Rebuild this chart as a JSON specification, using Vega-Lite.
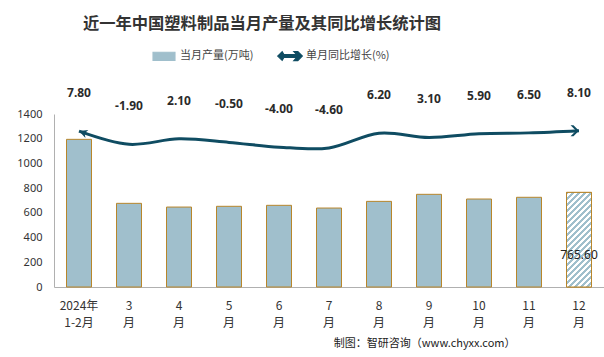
{
  "$schema": "https://vega.github.io/schema/vega-lite/v6.json",
  "width": 550,
  "height": 173,
  "autosize": "none",
  "padding": {"left": 54, "top": 114, "right": 0, "bottom": 70},
  "background": "white",
  "config": {
    "view": {"stroke": null},
    "locale": {"number": {"decimal": ".", "thousands": ",", "grouping": [3], "currency": ["$", ""], "minus": "-"}}
  },
  "title": {
    "text": "近一年中国塑料制品当月产量及其同比增长统计图",
    "font": "Noto Sans CJK SC",
    "fontSize": 16.3,
    "fontWeight": "bold",
    "color": "#333333",
    "anchor": "middle",
    "frame": "group",
    "dx": -67,
    "offset": 12
  },
  "data": {
    "values": [
      {"month": "2024年1-2月", "output": 1195, "growth": 7.8},
      {"month": "3月", "output": 677, "growth": -1.9},
      {"month": "4月", "output": 647, "growth": 2.1},
      {"month": "5月", "output": 653, "growth": -0.5},
      {"month": "6月", "output": 661, "growth": -4.0},
      {"month": "7月", "output": 639, "growth": -4.6},
      {"month": "8月", "output": 693, "growth": 6.2},
      {"month": "9月", "output": 750, "growth": 3.1},
      {"month": "10月", "output": 712, "growth": 5.9},
      {"month": "11月", "output": 726, "growth": 6.5},
      {"month": "12月", "output": 765.6, "growth": 8.1}
    ]
  },
  "encoding": {
    "x": {
      "field": "month",
      "type": "nominal",
      "sort": null,
      "scale": {"paddingInner": 0.5, "paddingOuter": 0.25},
      "axis": {
        "title": "制图：智研咨询（www.chyxx.com）",
        "titleFont": "Noto Sans CJK SC",
        "titleFontSize": 11,
        "titleFontWeight": "normal",
        "titleColor": "#222222",
        "titleX": 461,
        "titleY": 56,
        "titleAlign": "right",
        "titleBaseline": "middle",
        "labelAngle": 0,
        "labelFont": "Noto Sans CJK SC",
        "labelFontSize": 12,
        "labelColor": "#333333",
        "labelPadding": 13,
        "labelLineHeight": 17,
        "labelExpr": "datum.label == '2024年1-2月' ? ['2024年', '1-2月'] : [replace(datum.label, '月', ''), '月']",
        "ticks": false,
        "domainColor": "#b0b0b0"
      }
    }
  },
  "layer": [
    {
      "mark": {"type": "bar", "stroke": "#b8862b", "strokeWidth": 1},
      "encoding": {
        "y": {
          "field": "output",
          "type": "quantitative",
          "scale": {"domain": [0, 1400], "nice": false},
          "axis": {
            "title": null,
            "values": [0, 200, 400, 600, 800, 1000, 1200, 1400],
            "format": "d",
            "ticks": false,
            "grid": false,
            "labelFont": "Noto Sans",
            "labelFontSize": 11,
            "labelColor": "#333333",
            "labelPadding": 12,
            "domainColor": "#b0b0b0"
          }
        },
        "color": {
          "datum": "当月产量(万吨)",
          "type": "nominal",
          "scale": {"domain": ["当月产量(万吨)", "单月同比增长(%)"], "range": ["#a0bfcc", "#0f4c62"]},
          "legend": {
            "orient": "none",
            "legendX": 98,
            "legendY": -70,
            "direction": "horizontal",
            "title": null,
            "labelFont": "Noto Sans CJK SC",
            "labelFontSize": 11,
            "labelColor": "#444444",
            "labelOffset": 4,
            "columnPadding": 21,
            "symbolSize": 500,
            "encode": {
              "symbols": {
                "update": {
                  "shape": {"signal": "datum.value == '当月产量(万吨)' ? 'M-0.98,-0.36H0.98V0.36H-0.98Z' : 'M-1.1,0L-0.7,-0.38L-0.55,-0.13L0.6,-0.13L0.35,-0.4L0.7,-0.4L1.1,0L0.7,0.4L0.35,0.4L0.6,0.13L-0.55,0.13L-0.7,0.38Z'"},
                  "fill": {"signal": "datum.value == '当月产量(万吨)' ? '#a0bfcc' : '#0f4c62'"},
                  "stroke": {"signal": "datum.value == '当月产量(万吨)' ? '#b8862b' : '#0f4c62'"},
                  "strokeWidth": {"value": 1.2},
                  "strokeOpacity": {"value": 1},
                  "size": {"value": 500},
                  "opacity": {"value": 1},
                  "fillOpacity": {"value": 1}
                }
              }
            }
          }
        }
      }
    },
    {
      "transform": [{"filter": "datum.month == '12月'"}],
      "mark": {
        "type": "bar",
        "stroke": "#b8862b",
        "strokeWidth": 1,
        "fill": {
          "gradient": "linear",
          "x1": 0, "y1": 0, "x2": 0.3126, "y2": 1.1817,
          "stops": [
            {"offset": 0, "color": "#a0bfcc"}, {"offset": 0.0225, "color": "#a0bfcc"}, {"offset": 0.0225, "color": "#ffffff"}, {"offset": 0.05, "color": "#ffffff"},
            {"offset": 0.05, "color": "#a0bfcc"}, {"offset": 0.0725, "color": "#a0bfcc"}, {"offset": 0.0725, "color": "#ffffff"}, {"offset": 0.1, "color": "#ffffff"},
            {"offset": 0.1, "color": "#a0bfcc"}, {"offset": 0.1225, "color": "#a0bfcc"}, {"offset": 0.1225, "color": "#ffffff"}, {"offset": 0.15, "color": "#ffffff"},
            {"offset": 0.15, "color": "#a0bfcc"}, {"offset": 0.1725, "color": "#a0bfcc"}, {"offset": 0.1725, "color": "#ffffff"}, {"offset": 0.2, "color": "#ffffff"},
            {"offset": 0.2, "color": "#a0bfcc"}, {"offset": 0.2225, "color": "#a0bfcc"}, {"offset": 0.2225, "color": "#ffffff"}, {"offset": 0.25, "color": "#ffffff"},
            {"offset": 0.25, "color": "#a0bfcc"}, {"offset": 0.2725, "color": "#a0bfcc"}, {"offset": 0.2725, "color": "#ffffff"}, {"offset": 0.3, "color": "#ffffff"},
            {"offset": 0.3, "color": "#a0bfcc"}, {"offset": 0.3225, "color": "#a0bfcc"}, {"offset": 0.3225, "color": "#ffffff"}, {"offset": 0.35, "color": "#ffffff"},
            {"offset": 0.35, "color": "#a0bfcc"}, {"offset": 0.3725, "color": "#a0bfcc"}, {"offset": 0.3725, "color": "#ffffff"}, {"offset": 0.4, "color": "#ffffff"},
            {"offset": 0.4, "color": "#a0bfcc"}, {"offset": 0.4225, "color": "#a0bfcc"}, {"offset": 0.4225, "color": "#ffffff"}, {"offset": 0.45, "color": "#ffffff"},
            {"offset": 0.45, "color": "#a0bfcc"}, {"offset": 0.4725, "color": "#a0bfcc"}, {"offset": 0.4725, "color": "#ffffff"}, {"offset": 0.5, "color": "#ffffff"},
            {"offset": 0.5, "color": "#a0bfcc"}, {"offset": 0.5225, "color": "#a0bfcc"}, {"offset": 0.5225, "color": "#ffffff"}, {"offset": 0.55, "color": "#ffffff"},
            {"offset": 0.55, "color": "#a0bfcc"}, {"offset": 0.5725, "color": "#a0bfcc"}, {"offset": 0.5725, "color": "#ffffff"}, {"offset": 0.6, "color": "#ffffff"},
            {"offset": 0.6, "color": "#a0bfcc"}, {"offset": 0.6225, "color": "#a0bfcc"}, {"offset": 0.6225, "color": "#ffffff"}, {"offset": 0.65, "color": "#ffffff"},
            {"offset": 0.65, "color": "#a0bfcc"}, {"offset": 0.6725, "color": "#a0bfcc"}, {"offset": 0.6725, "color": "#ffffff"}, {"offset": 0.7, "color": "#ffffff"},
            {"offset": 0.7, "color": "#a0bfcc"}, {"offset": 0.7225, "color": "#a0bfcc"}, {"offset": 0.7225, "color": "#ffffff"}, {"offset": 0.75, "color": "#ffffff"},
            {"offset": 0.75, "color": "#a0bfcc"}, {"offset": 0.7725, "color": "#a0bfcc"}, {"offset": 0.7725, "color": "#ffffff"}, {"offset": 0.8, "color": "#ffffff"},
            {"offset": 0.8, "color": "#a0bfcc"}, {"offset": 0.8225, "color": "#a0bfcc"}, {"offset": 0.8225, "color": "#ffffff"}, {"offset": 0.85, "color": "#ffffff"},
            {"offset": 0.85, "color": "#a0bfcc"}, {"offset": 0.8725, "color": "#a0bfcc"}, {"offset": 0.8725, "color": "#ffffff"}, {"offset": 0.9, "color": "#ffffff"},
            {"offset": 0.9, "color": "#a0bfcc"}, {"offset": 0.9225, "color": "#a0bfcc"}, {"offset": 0.9225, "color": "#ffffff"}, {"offset": 0.95, "color": "#ffffff"},
            {"offset": 0.95, "color": "#a0bfcc"}, {"offset": 0.9725, "color": "#a0bfcc"}, {"offset": 0.9725, "color": "#ffffff"}, {"offset": 1, "color": "#ffffff"}
          ]
        }
      },
      "encoding": {
        "y": {"field": "output", "type": "quantitative", "scale": {"domain": [0, 1400], "nice": false}, "axis": null}
      }
    },
    {
      "transform": [{"filter": "datum.month == '12月'"}],
      "mark": {"type": "text", "dy": -32, "font": "Noto Sans", "fontSize": 12, "color": "#222222", "baseline": "middle"},
      "encoding": {
        "y": {"datum": 0, "type": "quantitative", "scale": {"domain": [0, 1400], "nice": false}, "axis": null},
        "text": {"field": "output", "type": "quantitative", "format": ".2f"}
      }
    },
    {
      "mark": {"type": "line", "interpolate": "cardinal", "strokeWidth": 3},
      "encoding": {
        "y": {"field": "growth", "type": "quantitative", "scale": {"domain": [-107, 20.4], "nice": false}, "axis": null},
        "color": {
          "datum": "单月同比增长(%)",
          "type": "nominal",
          "legend": {
            "orient": "none",
            "legendX": 98,
            "legendY": -70,
            "direction": "horizontal",
            "title": null,
            "labelFont": "Noto Sans CJK SC",
            "labelFontSize": 11,
            "labelColor": "#444444",
            "labelOffset": 4,
            "columnPadding": 21,
            "symbolSize": 500,
            "encode": {
              "symbols": {
                "update": {
                  "shape": {"signal": "datum.value == '当月产量(万吨)' ? 'M-0.98,-0.36H0.98V0.36H-0.98Z' : 'M-1.1,0L-0.7,-0.38L-0.55,-0.13L0.6,-0.13L0.35,-0.4L0.7,-0.4L1.1,0L0.7,0.4L0.35,0.4L0.6,0.13L-0.55,0.13L-0.7,0.38Z'"},
                  "fill": {"signal": "datum.value == '当月产量(万吨)' ? '#a0bfcc' : '#0f4c62'"},
                  "stroke": {"signal": "datum.value == '当月产量(万吨)' ? '#b8862b' : '#0f4c62'"},
                  "strokeWidth": {"value": 1.2},
                  "strokeOpacity": {"value": 1},
                  "size": {"value": 500},
                  "opacity": {"value": 1},
                  "fillOpacity": {"value": 1}
                }
              }
            }
          }
        }
      }
    },
    {
      "transform": [{"filter": "datum.month == '2024年1-2月'"}],
      "mark": {"type": "point", "filled": true, "opacity": 1, "color": "#0f4c62", "shape": "M0,0L1.4,-0.7L1.0,0L1.4,0.7Z", "size": 144, "angle": 20},
      "encoding": {
        "y": {"field": "growth", "type": "quantitative", "scale": {"domain": [-107, 20.4], "nice": false}, "axis": null}
      }
    },
    {
      "transform": [{"filter": "datum.month == '12月'"}],
      "mark": {"type": "point", "filled": true, "opacity": 1, "color": "#0f4c62", "shape": "M0,0L-0.85,-0.85L-1.3,-0.85L-0.45,0L-1.3,0.85L-0.85,0.85Z", "size": 169},
      "encoding": {
        "y": {"field": "growth", "type": "quantitative", "scale": {"domain": [-107, 20.4], "nice": false}, "axis": null}
      }
    },
    {
      "mark": {"type": "text", "dy": -38, "font": "Noto Sans", "fontSize": 12, "fontWeight": "bold", "color": "#2a2a2a", "baseline": "middle"},
      "encoding": {
        "y": {"field": "growth", "type": "quantitative", "scale": {"domain": [-107, 20.4], "nice": false}, "axis": null},
        "text": {"field": "growth", "type": "quantitative", "format": ".2f"}
      }
    }
  ],
  "resolve": {"scale": {"y": "independent"}}
}
